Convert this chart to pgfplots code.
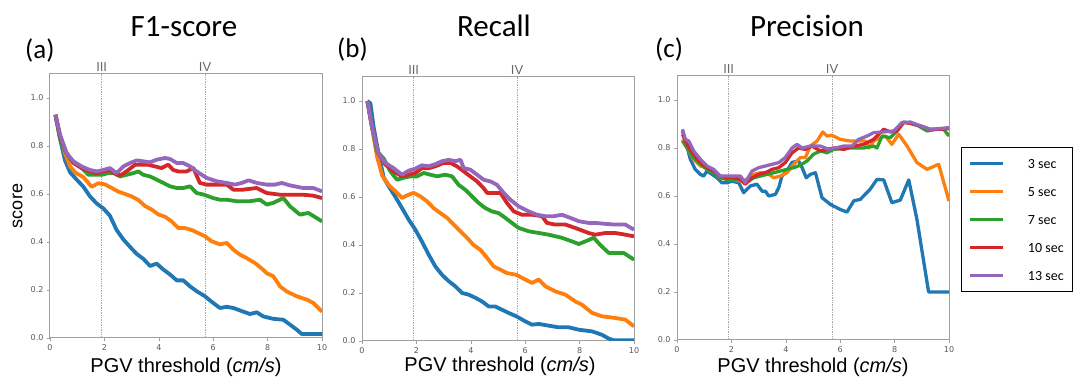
\documentclass[border=0pt]{standalone}
\usepackage{pgfplots}
\pgfplotsset{compat=1.18}
\usepackage{fontspec}
\setmainfont{Liberation Sans}
\newfontfamily\carlito{Carlito}
\newfontfamily\djv{DejaVu Sans}
\definecolor{tblue}{HTML}{1F77B4}
\definecolor{torange}{HTML}{FF7F0E}
\definecolor{tgreen}{HTML}{2CA02C}
\definecolor{tred}{HTML}{D62728}
\definecolor{tpurple}{HTML}{9467BD}
\pgfplotsset{
  myax/.style={
    scale only axis, width=272pt, height=264pt,
    xmin=0, xmax=10, ymin=0, ymax=1.1,
    xtick={0,2,4,6,8,10}, ytick={0,0.2,0.4,0.6,0.8,1.0},
    tick align=outside, tick pos=left, major tick length=3pt,
    axis line style={draw=gray!75, line width=1pt},
    tick style={gray!75, line width=0.6pt},
    ticklabel style={font=\djv\fontsize{8}{9}\selectfont, text=black!65},
    /pgf/number format/assume math mode=true,
    yticklabel style={/pgf/number format/fixed, /pgf/number format/fixed zerofill, /pgf/number format/precision=1},
    clip mode=individual,
    every axis plot/.append style={line width=3.8pt, line join=round, mark=none},
  },
}
\newcommand{\intensity}{%
  \draw[densely dotted, gray!70, line width=0.7pt] (axis cs:1.9,0) -- (axis cs:1.9,1.1);
  \draw[densely dotted, gray!70, line width=0.7pt] (axis cs:5.7,0) -- (axis cs:5.7,1.1);
  \node[anchor=base, text=black!60, font=\fontsize{13}{13}\selectfont, inner sep=0pt] at ([yshift=2pt]axis cs:1.9,1.1) {III};
  \node[anchor=base, text=black!60, font=\fontsize{13}{13}\selectfont, inner sep=0pt] at ([yshift=2pt]axis cs:5.7,1.1) {IV};
}
\begin{document}
\begin{tikzpicture}
\useasboundingbox (0pt,0pt) rectangle (1073pt,379pt);
% ---------------- (a) F1-score
\begin{axis}[myax, at={(50pt,41pt)}, anchor=south west]
\intensity
\addplot[tblue] coordinates {(0.2,0.93)(0.37,0.83)(0.55,0.74)(0.74,0.69)(0.98,0.66)(1.23,0.63)(1.47,0.59)(1.72,0.56)(1.96,0.54)(2.2,0.51)(2.45,0.45)(2.7,0.41)(2.94,0.38)(3.19,0.35)(3.43,0.33)(3.68,0.30)(3.92,0.31)(4.17,0.285)(4.41,0.265)(4.66,0.24)(4.9,0.24)(5.15,0.215)(5.39,0.195)(5.67,0.176)(6.0,0.146)(6.25,0.125)(6.5,0.13)(6.74,0.125)(7.1,0.11)(7.35,0.10)(7.6,0.107)(7.84,0.09)(8.2,0.08)(8.58,0.076)(8.82,0.056)(9.07,0.035)(9.25,0.017)(10,0.017)};
\addplot[torange] coordinates {(0.2,0.93)(0.37,0.84)(0.55,0.77)(0.74,0.715)(0.92,0.69)(1.23,0.67)(1.53,0.63)(1.78,0.645)(2.02,0.64)(2.27,0.625)(2.51,0.61)(2.76,0.60)(3.0,0.59)(3.25,0.575)(3.49,0.55)(3.74,0.535)(3.98,0.515)(4.23,0.505)(4.47,0.486)(4.72,0.458)(4.96,0.458)(5.21,0.45)(5.45,0.437)(5.7,0.424)(5.94,0.403)(6.25,0.39)(6.5,0.396)(6.74,0.368)(6.99,0.347)(7.23,0.333)(7.54,0.312)(7.78,0.29)(7.97,0.27)(8.21,0.257)(8.46,0.215)(8.7,0.194)(9.07,0.174)(9.44,0.16)(9.68,0.146)(10,0.11)};
\addplot[tgreen] coordinates {(0.2,0.93)(0.37,0.83)(0.55,0.78)(0.86,0.73)(1.16,0.71)(1.41,0.68)(1.65,0.68)(1.9,0.68)(2.14,0.687)(2.39,0.687)(2.57,0.673)(2.82,0.68)(3.06,0.687)(3.25,0.694)(3.43,0.68)(3.68,0.673)(3.92,0.66)(4.17,0.646)(4.41,0.632)(4.66,0.625)(4.9,0.625)(5.15,0.632)(5.39,0.604)(5.67,0.597)(6.0,0.583)(6.25,0.576)(6.5,0.576)(6.86,0.57)(7.35,0.57)(7.72,0.576)(7.97,0.556)(8.21,0.563)(8.58,0.583)(8.82,0.549)(9.19,0.514)(9.5,0.521)(9.8,0.5)(10,0.486)};
\addplot[tred] coordinates {(0.2,0.93)(0.37,0.84)(0.61,0.77)(0.86,0.73)(1.16,0.708)(1.47,0.694)(1.72,0.687)(1.96,0.694)(2.2,0.70)(2.45,0.68)(2.63,0.68)(2.88,0.70)(3.13,0.722)(3.37,0.722)(3.6,0.722)(3.86,0.715)(4.1,0.708)(4.35,0.722)(4.53,0.70)(4.72,0.694)(5.02,0.694)(5.27,0.708)(5.51,0.646)(5.76,0.639)(6.13,0.639)(6.5,0.639)(6.74,0.618)(7.1,0.618)(7.6,0.625)(7.97,0.604)(8.46,0.597)(8.82,0.597)(9.3,0.597)(9.68,0.593)(10,0.583)};
\addplot[tpurple] coordinates {(0.2,0.93)(0.37,0.847)(0.61,0.77)(0.86,0.736)(1.16,0.715)(1.47,0.70)(1.72,0.694)(1.96,0.70)(2.2,0.708)(2.45,0.687)(2.7,0.715)(2.94,0.729)(3.19,0.74)(3.43,0.736)(3.68,0.732)(3.92,0.743)(4.23,0.75)(4.41,0.746)(4.66,0.729)(4.9,0.729)(5.15,0.715)(5.39,0.694)(5.76,0.667)(6.13,0.653)(6.5,0.646)(6.8,0.639)(7.05,0.646)(7.3,0.657)(7.6,0.646)(7.97,0.639)(8.27,0.639)(8.52,0.646)(8.82,0.636)(9.3,0.625)(9.68,0.625)(10,0.611)};
\end{axis}
% ---------------- (b) Recall
\begin{axis}[myax, at={(362pt,38pt)}, anchor=south west]
\intensity
\addplot[tblue] coordinates {(0.2,1.0)(0.31,0.99)(0.43,0.89)(0.61,0.78)(0.8,0.68)(0.98,0.645)(1.23,0.60)(1.47,0.554)(1.72,0.505)(1.96,0.464)(2.2,0.415)(2.45,0.36)(2.7,0.31)(2.94,0.276)(3.19,0.249)(3.43,0.228)(3.68,0.2)(3.92,0.193)(4.17,0.18)(4.41,0.165)(4.66,0.144)(4.9,0.144)(5.15,0.13)(5.39,0.117)(5.67,0.103)(6.0,0.082)(6.25,0.068)(6.5,0.071)(6.86,0.064)(7.23,0.057)(7.6,0.057)(7.97,0.047)(8.46,0.04)(8.82,0.026)(9.07,0.01)(9.25,0.003)(10,0.003)};
\addplot[torange] coordinates {(0.2,1.0)(0.37,0.89)(0.55,0.77)(0.74,0.69)(0.98,0.65)(1.23,0.624)(1.47,0.596)(1.72,0.61)(1.9,0.617)(2.14,0.603)(2.39,0.582)(2.63,0.554)(2.88,0.533)(3.13,0.513)(3.37,0.485)(3.62,0.457)(3.86,0.43)(4.1,0.40)(4.35,0.38)(4.6,0.346)(4.84,0.311)(5.09,0.297)(5.33,0.283)(5.67,0.276)(6.0,0.256)(6.25,0.242)(6.5,0.256)(6.74,0.228)(7.1,0.207)(7.48,0.193)(7.84,0.165)(8.09,0.151)(8.46,0.117)(8.82,0.103)(9.3,0.096)(9.68,0.089)(10,0.061)};
\addplot[tgreen] coordinates {(0.2,1.0)(0.37,0.89)(0.55,0.79)(0.8,0.76)(1.04,0.707)(1.29,0.672)(1.53,0.68)(1.78,0.686)(2.02,0.686)(2.27,0.70)(2.51,0.693)(2.76,0.686)(3.06,0.693)(3.31,0.686)(3.55,0.651)(3.8,0.63)(4.04,0.603)(4.29,0.575)(4.53,0.554)(4.78,0.54)(5.02,0.533)(5.27,0.513)(5.51,0.492)(5.76,0.471)(6.13,0.457)(6.5,0.45)(6.86,0.443)(7.35,0.43)(7.72,0.415)(7.97,0.404)(8.21,0.415)(8.52,0.43)(8.76,0.40)(9.07,0.367)(9.31,0.367)(9.62,0.367)(10,0.339)};
\addplot[tred] coordinates {(0.2,1.0)(0.37,0.89)(0.61,0.78)(0.86,0.735)(1.16,0.707)(1.47,0.686)(1.72,0.693)(1.96,0.70)(2.2,0.72)(2.45,0.72)(2.7,0.728)(3.0,0.742)(3.25,0.742)(3.49,0.728)(3.74,0.707)(3.98,0.686)(4.23,0.665)(4.47,0.637)(4.6,0.617)(4.84,0.617)(5.09,0.617)(5.33,0.575)(5.58,0.54)(5.88,0.526)(6.25,0.526)(6.62,0.52)(6.8,0.492)(7.1,0.485)(7.48,0.485)(7.84,0.471)(8.33,0.45)(8.58,0.443)(8.95,0.45)(9.31,0.45)(9.68,0.443)(10,0.436)};
\addplot[tpurple] coordinates {(0.2,1.0)(0.37,0.89)(0.61,0.78)(0.86,0.742)(1.16,0.72)(1.47,0.693)(1.72,0.71)(1.96,0.718)(2.2,0.732)(2.45,0.728)(2.7,0.737)(2.94,0.749)(3.19,0.755)(3.43,0.749)(3.62,0.755)(3.74,0.72)(3.98,0.714)(4.23,0.693)(4.47,0.672)(4.72,0.665)(4.96,0.651)(5.21,0.617)(5.45,0.589)(5.76,0.561)(6.13,0.54)(6.43,0.526)(6.74,0.52)(7.05,0.52)(7.35,0.526)(7.66,0.513)(7.97,0.499)(8.33,0.492)(8.58,0.492)(8.95,0.488)(9.31,0.485)(9.68,0.485)(10,0.464)};
\end{axis}
% ---------------- (c) Precision
\begin{axis}[myax, at={(677pt,39pt)}, anchor=south west,
  every axis plot/.append style={line width=3.3pt},
  legend cell align=left,
  legend image code/.code={\draw[#1, line width=3.4pt] (0pt,0pt) -- (33pt,0pt);},
  legend style={at={(1.044,0.731)}, anchor=north west, draw=black, line width=1.2pt, fill=white,
    inner xsep=7pt, inner ysep=9pt, row sep=14pt, column sep=21pt,
    font=\carlito\fontsize{14}{14}\selectfont,
    nodes={inner sep=2pt, text height=10pt, text depth=0pt}}]
\intensity
\addplot[tblue] coordinates {(0.2,0.87)(0.31,0.83)(0.49,0.753)(0.67,0.711)(0.86,0.69)(0.98,0.683)(1.1,0.704)(1.29,0.69)(1.47,0.676)(1.65,0.655)(1.84,0.655)(2.02,0.662)(2.27,0.655)(2.45,0.614)(2.7,0.642)(2.94,0.649)(3.13,0.62)(3.25,0.62)(3.37,0.60)(3.62,0.607)(3.74,0.635)(3.86,0.683)(4.04,0.704)(4.23,0.74)(4.47,0.746)(4.6,0.718)(4.75,0.676)(4.9,0.69)(5.09,0.697)(5.33,0.593)(5.64,0.565)(6.0,0.544)(6.25,0.533)(6.5,0.58)(6.74,0.586)(7.1,0.628)(7.35,0.669)(7.6,0.667)(7.9,0.572)(8.21,0.583)(8.52,0.667)(8.82,0.503)(9.25,0.2)(10,0.2)};
\addlegendentry{3 sec}
\addplot[torange] coordinates {(0.2,0.836)(0.37,0.80)(0.61,0.753)(0.86,0.725)(1.1,0.718)(1.35,0.704)(1.59,0.676)(1.84,0.669)(2.08,0.669)(2.33,0.662)(2.57,0.669)(2.82,0.69)(3.06,0.697)(3.31,0.697)(3.55,0.676)(3.8,0.683)(4.04,0.697)(4.29,0.732)(4.53,0.76)(4.72,0.76)(4.9,0.808)(5.15,0.829)(5.36,0.867)(5.51,0.85)(5.7,0.853)(6.0,0.836)(6.37,0.829)(6.68,0.829)(6.92,0.829)(7.05,0.80)(7.23,0.829)(7.48,0.843)(7.66,0.85)(7.9,0.815)(8.15,0.857)(8.46,0.808)(8.82,0.739)(9.19,0.711)(9.62,0.732)(10,0.579)};
\addlegendentry{5 sec}
\addplot[tgreen] coordinates {(0.2,0.829)(0.37,0.80)(0.61,0.76)(0.86,0.732)(1.1,0.711)(1.35,0.697)(1.59,0.676)(1.84,0.669)(2.08,0.669)(2.33,0.667)(2.57,0.658)(2.82,0.676)(3.06,0.683)(3.31,0.69)(3.55,0.697)(3.8,0.704)(4.04,0.711)(4.29,0.718)(4.53,0.728)(4.78,0.746)(5.02,0.774)(5.27,0.788)(5.51,0.78)(5.76,0.794)(6.13,0.80)(6.5,0.80)(6.86,0.80)(7.23,0.808)(7.35,0.80)(7.54,0.85)(7.84,0.843)(8.09,0.871)(8.33,0.908)(8.58,0.903)(8.88,0.892)(9.19,0.871)(9.56,0.878)(9.8,0.878)(10,0.85)};
\addlegendentry{7 sec}
\addplot[tred] coordinates {(0.2,0.857)(0.37,0.815)(0.61,0.774)(0.86,0.739)(1.1,0.718)(1.35,0.704)(1.59,0.683)(1.84,0.676)(2.08,0.676)(2.33,0.669)(2.51,0.649)(2.76,0.676)(3.0,0.69)(3.25,0.697)(3.49,0.711)(3.74,0.718)(3.98,0.739)(4.23,0.78)(4.47,0.80)(4.72,0.794)(4.96,0.808)(5.27,0.788)(5.51,0.794)(5.76,0.80)(6.13,0.794)(6.5,0.808)(6.86,0.815)(7.23,0.836)(7.6,0.878)(7.84,0.867)(8.09,0.871)(8.33,0.906)(8.58,0.903)(8.95,0.892)(9.31,0.878)(9.68,0.878)(10,0.881)};
\addlegendentry{10 sec}
\addplot[tpurple] coordinates {(0.2,0.878)(0.31,0.836)(0.43,0.829)(0.61,0.788)(0.86,0.753)(1.1,0.725)(1.35,0.711)(1.59,0.683)(1.84,0.683)(2.08,0.683)(2.33,0.683)(2.51,0.656)(2.76,0.704)(3.0,0.718)(3.25,0.725)(3.49,0.732)(3.74,0.739)(3.98,0.76)(4.23,0.80)(4.41,0.815)(4.6,0.80)(4.9,0.808)(5.27,0.808)(5.58,0.794)(5.82,0.80)(6.13,0.808)(6.43,0.808)(6.68,0.836)(6.99,0.85)(7.23,0.864)(7.6,0.867)(7.97,0.871)(8.27,0.906)(8.58,0.908)(8.95,0.892)(9.31,0.878)(9.68,0.881)(10,0.885)};
\addlegendentry{13 sec}
\end{axis}
% ---------------- titles and labels
\node[anchor=base, font=\carlito\fontsize{31}{31}\selectfont] at (184pt,342pt) {F1-score};
\node[anchor=base, font=\carlito\fontsize{31}{31}\selectfont] at (494pt,342pt) {Recall};
\node[anchor=base, font=\carlito\fontsize{31}{31}\selectfont] at (807pt,342pt) {Precision};
\node[anchor=base west, inner sep=0pt, font=\carlito\fontsize{27}{27}\selectfont] at (25pt,320pt) {(a)};
\node[anchor=base west, inner sep=0pt, font=\carlito\fontsize{27}{27}\selectfont] at (337pt,321pt) {(b)};
\node[anchor=base west, inner sep=0pt, font=\carlito\fontsize{27}{27}\selectfont] at (655pt,321pt) {(c)};
\node[anchor=base, font=\fontsize{20}{20}\selectfont] at (186pt,6pt) {PGV threshold (\textit{cm/s})};
\node[anchor=base, font=\fontsize{20}{20}\selectfont] at (500pt,7pt) {PGV threshold (\textit{cm/s})};
\node[anchor=base, font=\fontsize{20}{20}\selectfont] at (813pt,6pt) {PGV threshold (\textit{cm/s})};
\node[rotate=90, font=\fontsize{18}{18}\selectfont] at (17.5pt,173pt) {score};
\end{tikzpicture}
\end{document}
